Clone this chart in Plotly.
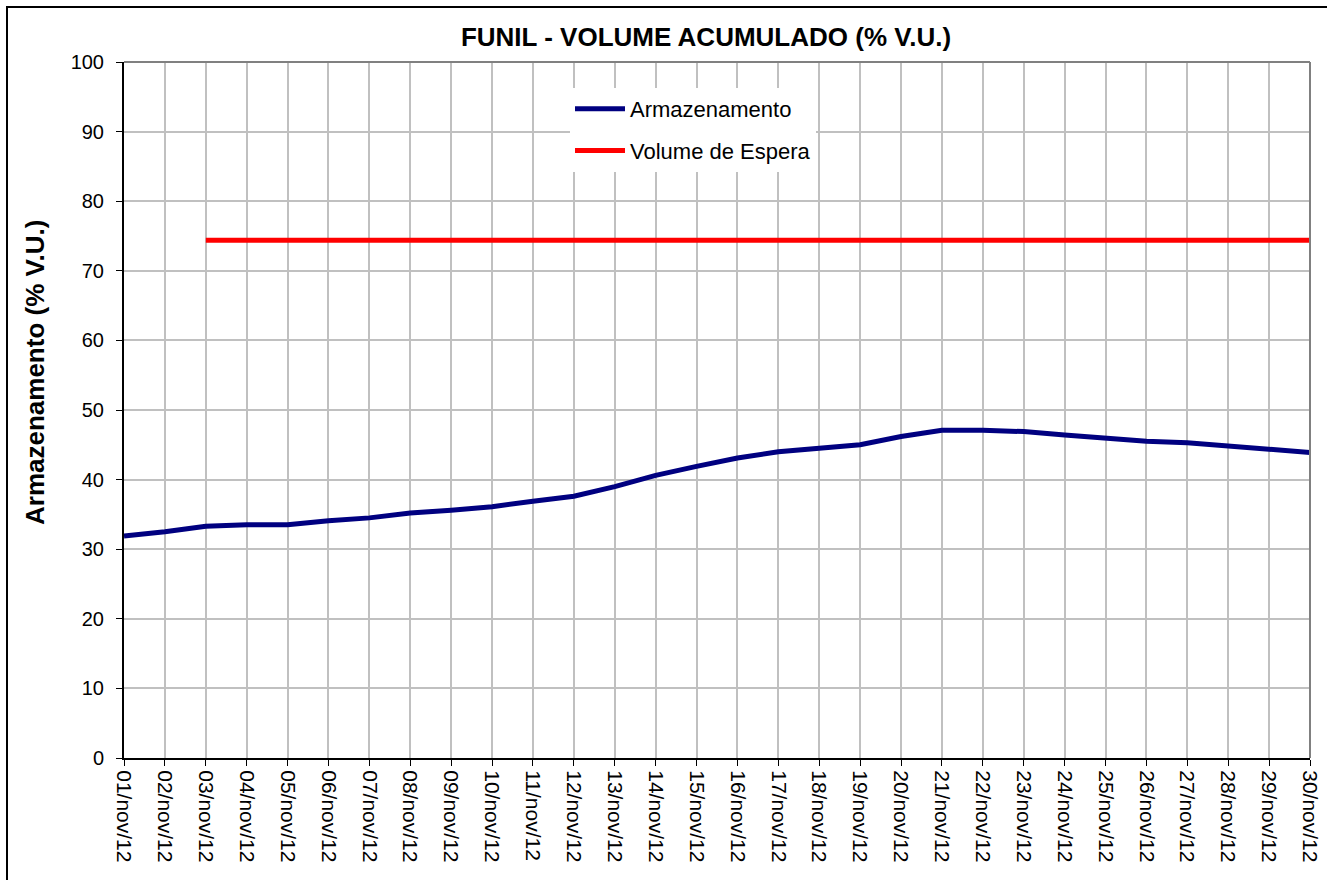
import plotly.graph_objects as go

dates = [f"{d:02d}/nov/12" for d in range(1, 31)]
armazenamento = [31.9, 32.5, 33.3, 33.5, 33.5, 34.1, 34.5, 35.2, 35.6, 36.1,
                 36.9, 37.6, 39.0, 40.6, 41.9, 43.1, 44.0, 44.5, 45.0, 46.2,
                 47.1, 47.1, 46.9, 46.4, 45.9, 45.5, 45.3, 44.8, 44.3, 43.9]
espera_dates = dates[2:]
volume_espera = [74.4] * len(espera_dates)
y_ticks = list(range(0, 101, 10))

FONT = "Liberation Sans, Arial, sans-serif"
W, H = 1327, 880
L, R, T, B = 124, 17, 62, 122
PW, PH = W - L - R, H - T - B

fig = go.Figure()
fig.add_trace(go.Scatter(x=dates, y=armazenamento, mode="lines", name="Armazenamento",
                         legendgroup="a", line=dict(color="#000080", width=5)))
fig.add_trace(go.Scatter(x=espera_dates, y=volume_espera, mode="lines", name="Volume de Espera",
                         legendgroup="b", line=dict(color="#ff0000", width=5)))

fig.update_layout(
    width=W, height=H,
    margin=dict(l=L, r=R, t=T, b=B, autoexpand=False),
    paper_bgcolor="white", plot_bgcolor="white",
    font=dict(family=FONT, size=20, color="black"),
    title=dict(text="<b>FUNIL - VOLUME ACUMULADO (% V.U.)</b>", x=706 / W,
               xanchor="center", y=1 - 37 / H, yanchor="middle",
               font=dict(family=FONT, size=26, color="black")),
    showlegend=True,
    legend=dict(x=(570 - L) / PW, y=(H - B - 88) / PH, xanchor="left", yanchor="top",
                bgcolor="white", borderwidth=0, font=dict(family=FONT, size=22),
                tracegroupgap=10, itemwidth=50),
    xaxis=dict(type="category", categoryorder="array", categoryarray=dates,
               range=[0, 29], tickangle=90, showgrid=True, gridcolor="#c0c0c0", gridwidth=2,
               showline=True, linecolor="black", linewidth=2, ticks="outside",
               ticklen=6, tickcolor="black", tickfont=dict(family=FONT, size=21),
               zeroline=False, automargin=False),
    yaxis=dict(range=[0, 100], tickvals=y_ticks, showgrid=True, gridcolor="#c0c0c0",
               gridwidth=2, showline=True, linecolor="black", linewidth=2,
               ticks="outside", ticklen=6, tickcolor="black",
               tickfont=dict(family=FONT, size=20), zeroline=False, automargin=False,
               ticklabelstandoff=8),
)

# y-axis title placed as annotation
fig.add_annotation(text="<b>Armazenamento (% V.U.)</b>", textangle=-90, showarrow=False,
                   xref="paper", yref="paper", x=(35 - L) / PW, y=(H - B - 373) / PH,
                   xanchor="center", yanchor="middle",
                   font=dict(family=FONT, size=26, color="black"))

# plot area top/right gray border
fig.add_shape(type="line", xref="paper", yref="paper", x0=0, x1=1, y0=1, y1=1,
              line=dict(color="#808080", width=2))
fig.add_shape(type="line", xref="paper", yref="paper", x0=1, x1=1, y0=0, y1=1,
              line=dict(color="#808080", width=2))
# outer chart border
fig.add_shape(type="rect", xref="paper", yref="paper",
              x0=(7 - L) / PW, x1=(1340 - L) / PW,
              y0=(H - B - 900) / PH, y1=(H - B - 7) / PH,
              line=dict(color="black", width=2), fillcolor="rgba(0,0,0,0)", layer="above")

fig.write_html("out.html", config={"displayModeBar": False},
               post_script="document.body.style.margin='0px';")
